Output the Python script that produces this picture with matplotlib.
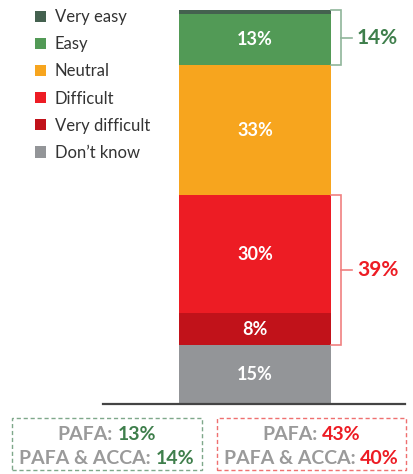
import matplotlib.pyplot as plt
from matplotlib.patches import Rectangle

plt.rcParams['font.family'] = ['Lato', 'DejaVu Sans']

categorias = ["Don’t know", 'Very difficult', 'Difficult', 'Neutral', 'Easy', 'Very easy']
valores = [15, 8, 30, 33, 13, 1]
colores = ['#939598', '#c1121a', '#ed1c24', '#f7a51e', '#529a56', '#44614f']

# grupos con corchete: (indice inicio, indice fin, etiqueta)
grupo_facil = (4, 5, '14%')
grupo_dificil = (1, 2, '39%')

cajas = [
    {'lineas': [('PAFA: ', '13%'), ('PAFA & ACCA: ', '14%')], 'color': '#3f7f4c', 'borde': '#7fa88a'},
    {'lineas': [('PAFA: ', '43%'), ('PAFA & ACCA: ', '40%')], 'color': '#ed1c24', 'borde': '#ef7070'},
]

W, H = 414, 474
fig = plt.figure(figsize=(W / 100, H / 100), dpi=100)
ax = fig.add_axes([103 / W, (H - 404) / H, (405 - 103) / W, (404 - 10) / H])
ax.set_xlim(103, 405)
ax.set_ylim(0, 100)

bottom = 0
bases = []
for cat, val, col in zip(categorias, valores, colores):
    ax.bar(255, val, width=152, bottom=bottom, color=col, label=cat)
    bases.append(bottom)
    if val >= 5:
        ax.text(255, bottom + val / 2, f'{val}%', ha='center', va='center',
                color='white', fontsize=13, fontweight='bold')
    bottom += val

for sp in ['top', 'left', 'right']:
    ax.spines[sp].set_visible(False)
ax.spines['bottom'].set_color('#444444')
ax.spines['bottom'].set_linewidth(1.6)
ax.set_xticks([])
ax.set_yticks([])


def corchete(grupo, color_linea, color_texto):
    i0, i1, txt = grupo
    y0 = bases[i0]
    y1 = bases[i1] + valores[i1]
    ax.plot([331, 341, 341, 331], [y0, y0, y1, y1], color=color_linea, lw=1.2,
            solid_joinstyle='miter', clip_on=False)
    ym = (y0 + y1) / 2
    ax.plot([341, 352], [ym, ym], color=color_linea, lw=1.2, clip_on=False)
    ax.text(357, ym, txt, ha='left', va='center', color=color_texto,
            fontsize=15, fontweight='bold', clip_on=False)


corchete(grupo_facil, '#8fb59a', '#3f7f4c')
corchete(grupo_dificil, '#f08080', '#ed1c24')

handles, labels = ax.get_legend_handles_labels()
fig.legend(handles[::-1], labels[::-1], loc='upper left',
           bbox_to_anchor=(35 / W, 1 - 9 / H), frameon=False, fontsize=12,
           labelcolor='#333333', handlelength=0.65, handleheight=0.65,
           handletextpad=0.55, labelspacing=0.67, borderpad=0, borderaxespad=0)

# cajas inferiores
renderer = fig.canvas.get_renderer()
pos_cajas = [(12, 202), (217, 406)]
y_lineas = [435, 459]
for caja, (x0, x1) in zip(cajas, pos_cajas):
    fig.patches.append(Rectangle((x0 / W, 1 - 470 / H), (x1 - x0) / W, (470 - 418) / H,
                                 transform=fig.transFigure, fill=False,
                                 edgecolor=caja['borde'], lw=1, ls=(0, (3, 2))))
    cx = (x0 + x1) / 2
    for (gris, pct), yl in zip(caja['lineas'], y_lineas):
        t = fig.text(0, 0, gris + pct, fontsize=14, fontweight='bold')
        w = t.get_window_extent(renderer).width
        t.remove()
        fig.text((cx - w / 2) / W, 1 - yl / H, gris.strip(), ha='left', va='center',
                 fontsize=14, fontweight='bold', color='#9a9a9a')
        fig.text((cx + w / 2) / W, 1 - yl / H, pct, ha='right', va='center',
                 fontsize=14, fontweight='bold', color=caja['color'])

fig.savefig('out.png', dpi=100)
